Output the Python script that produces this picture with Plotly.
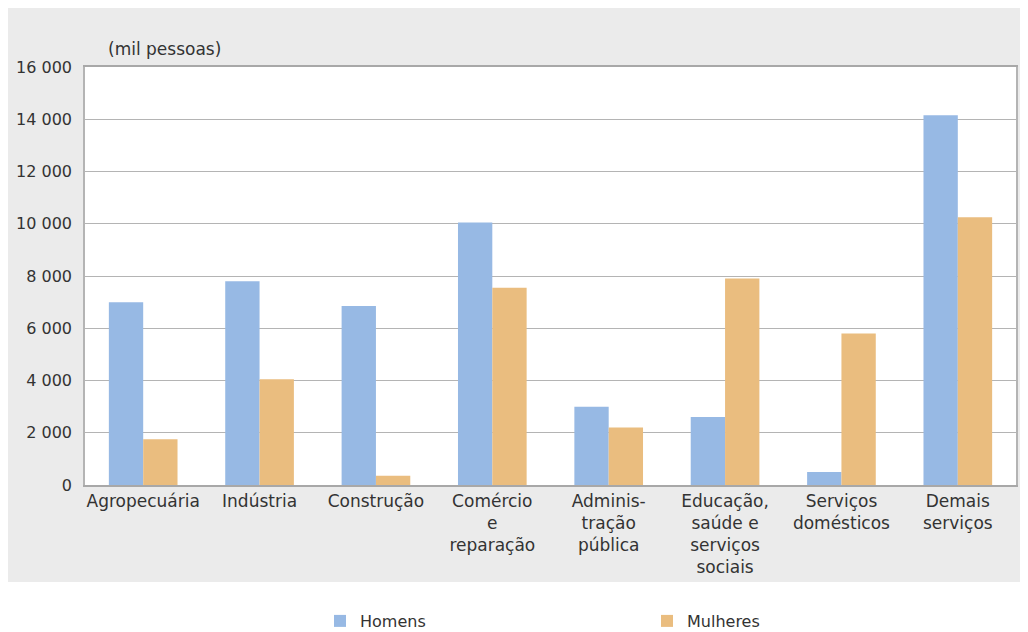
import plotly.graph_objects as go

categories = ["Agropecuária", "Indústria", "Construção", "Comércio<br>e<br>reparação",
              "Adminis-<br>tração<br>pública", "Educação,<br>saúde e<br>serviços<br>sociais",
              "Serviços<br>domésticos", "Demais<br>serviços"]
homens = [7000, 7800, 6850, 10050, 3000, 2600, 500, 14150]
mulheres = [1750, 4050, 350, 7550, 2200, 7900, 5800, 10250]
y_ticks = [0, 2000, 4000, 6000, 8000, 10000, 12000, 14000, 16000]
y_ticktext = ["0", "2 000", "4 000", "6 000", "8 000", "10 000", "12 000", "14 000", "16 000"]

BLUE = "#97b9e4"
ORANGE = "#eabd7f"
FONT = "DejaVu Sans"
TXT = "#333333"

fig = go.Figure()
fig.add_trace(go.Bar(x=categories, y=homens, name="Homens", marker=dict(color=BLUE, line_width=0)))
fig.add_trace(go.Bar(x=categories, y=mulheres, name="Mulheres", marker=dict(color=ORANGE, line_width=0)))

L, R, T, B = 85, 12, 67, 147
W, H = 1028, 632
pw, ph = W - L - R, H - T - B

def px_x(p):
    return (p - L) / pw

def px_y(p):
    return (H - B - p) / ph

fig.update_layout(
    width=W, height=H,
    margin=dict(l=L, r=R, t=T, b=B, pad=0, autoexpand=False),
    paper_bgcolor="white",
    plot_bgcolor="rgba(0,0,0,0)",
    barmode="group",
    bargap=0.41,
    bargroupgap=0,
    font=dict(family=FONT, size=16, color=TXT),
    showlegend=True,
    legend=dict(orientation="h", x=px_x(320), xanchor="left", y=px_y(604), yanchor="top",
                entrywidth=282, entrywidthmode="pixels", font=dict(size=16, color=TXT),
                bgcolor="rgba(0,0,0,0)"),
    shapes=[
        dict(type="rect", xref="paper", yref="paper", x0=px_x(8), x1=px_x(1020),
             y0=px_y(582), y1=px_y(8), fillcolor="#ebebeb", line_width=0, layer="below"),
        dict(type="rect", xref="paper", yref="paper", x0=0, x1=1, y0=0, y1=1,
             fillcolor="white", line_width=0, layer="below"),
    ],
    annotations=[
        dict(text="(mil pessoas)", xref="paper", yref="paper", x=px_x(106), y=px_y(49),
             xanchor="left", yanchor="middle", showarrow=False, font=dict(size=17, color=TXT)),
    ],
)
fig.update_xaxes(showline=True, linecolor="#a8a8a8", linewidth=1.5, mirror=True,
                 showgrid=False, tickfont=dict(size=17, color=TXT), ticks="")
fig.update_yaxes(range=[0, 16000], tickvals=y_ticks, ticktext=y_ticktext,
                 showgrid=True, gridcolor="#b4b4b4", gridwidth=1.2,
                 showline=True, linecolor="#b4b4b4", linewidth=1.5, mirror=True,
                 zeroline=False, ticks="", ticklabelstandoff=8,
                 tickfont=dict(size=16, color=TXT))

fig.write_html("out.html")
